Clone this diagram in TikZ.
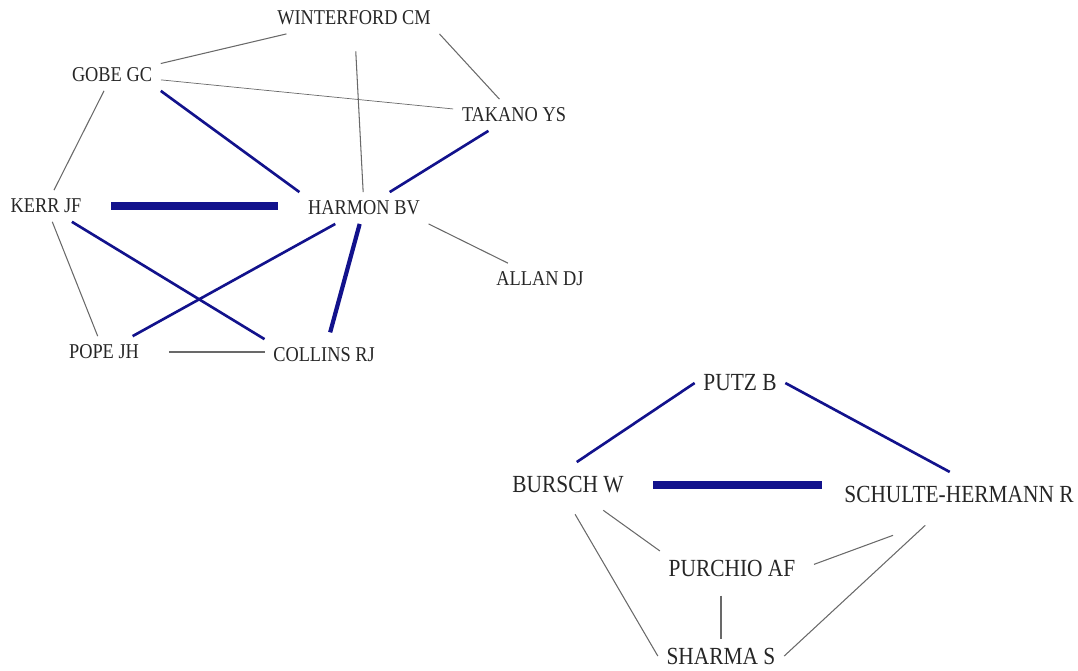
\documentclass[tikz,border=0pt]{standalone}
\usepackage{fontspec}
\setmainfont{Liberation Serif}
\definecolor{netblue}{RGB}{18,18,140}
\definecolor{netgray}{RGB}{105,105,105}
\newcommand{\nm}[1]{\scalebox{0.87}[1]{#1}}
\tikzset{
    author/.style = {inner sep=1pt, outer sep=4pt, text=black!85, font=\fontsize{12}{14}\selectfont},
    author-big/.style = {author, font=\fontsize{14}{16}\selectfont},
    weak-tie/.style = {draw=netgray, line width=0.6pt},
    mid-tie/.style = {draw=netblue, line width=1.5pt},
    strong-tie/.style = {draw=netblue, line width=2.4pt},
    heavy-tie/.style = {draw=netblue, line width=5pt},
}

\begin{document}
\begin{tikzpicture}[x=0.02cm, y=-0.02cm]
\useasboundingbox (0,0) rectangle (1078,670);
% first group
\node[author] (winterford) at (354,18) {\nm{WINTERFORD CM}};
\node[author] (gobe) at (112,75) {\nm{GOBE GC}};
\node[author] (takano) at (514,115) {\nm{TAKANO YS}};
\node[author] (kerr) at (46,206) {\nm{KERR JF}};
\node[author] (harmon) at (364,208) {\nm{HARMON BV}};
\node[author] (allan) at (540,279) {\nm{ALLAN DJ}};
\node[author] (pope) at (104,352) {\nm{POPE JH}};
\node[author] (collins) at (324,355) {\nm{COLLINS RJ}};
% second group
\node[author-big] (putz) at (740,383) {\nm{PUTZ B}};
\node[author-big] (bursch) at (568,485) {\nm{BURSCH W}};
\node[author-big] (schulte) at (959,494) {\nm{SCHULTE-HERMANN R}};
\node[author-big] (purchio) at (732,568) {\nm{PURCHIO AF}};
\node[author-big] (sharma) at (721,656) {\nm{SHARMA S}};

\draw[weak-tie] (gobe) -- (winterford);
\draw[weak-tie] (winterford.south east) -- (takano);
\draw[weak-tie, shorten <=10pt] (winterford) -- (harmon);
\draw[weak-tie, line width=0.4pt] (gobe) -- (takano);
\draw[weak-tie] (gobe) -- (kerr);
\draw[mid-tie] (gobe.south east) -- (harmon.north west);
\draw[mid-tie] (takano) -- (harmon);
\draw[heavy-tie, shorten <=12pt, shorten >=12pt] (kerr.east) -- (kerr.east -| harmon.west);
\draw[mid-tie] (kerr) -- (collins.north west);
\draw[weak-tie] (kerr) -- (pope);
\draw[mid-tie] (harmon) -- (pope);
\draw[strong-tie, shorten >=4pt] (harmon) -- (collins);
\draw[weak-tie] (harmon.south east) -- (allan);
\draw[weak-tie, shorten <=12pt] (pope.east) -- (pope.east -| collins.west);

\draw[mid-tie, shorten >=6pt] (putz.west) -- (bursch.north);
\draw[mid-tie, shorten >=6pt] (putz.east) -- (schulte.north);
\draw[heavy-tie, shorten <=12pt, shorten >=8pt] (bursch.east) -- (bursch.east -| schulte.west);
\draw[weak-tie, shorten <=8pt] (bursch) -- (purchio.north west);
\draw[weak-tie, shorten <=40pt, shorten >=6pt] (schulte.south) -- (purchio.east);
\draw[weak-tie, shorten <=8pt] (bursch.south) -- (sharma.west);
\draw[weak-tie, shorten <=6pt] (purchio.south -| sharma.north) -- (sharma.north);
\draw[weak-tie, shorten <=12pt] (schulte) -- (sharma.east);
\end{tikzpicture}
\end{document}
